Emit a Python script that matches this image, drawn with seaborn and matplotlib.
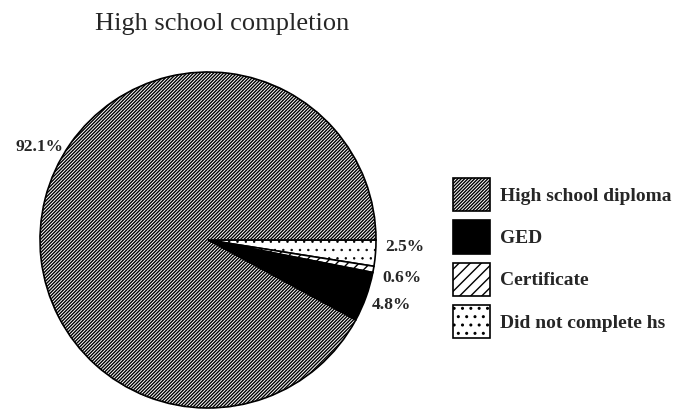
import matplotlib
matplotlib.use("Agg")
import matplotlib.pyplot as plt
import seaborn as sns
import numpy as np

sns.set_theme(style="white")
plt.rcParams['font.family'] = ['Liberation Serif', 'DejaVu Serif']
plt.rcParams['hatch.linewidth'] = 1.0

# Data (clockwise from 3 o'clock)
categories = ["Did not complete hs", "Certificate", "GED", "High school diploma"]
values = [2.5, 0.6, 4.8, 92.1]
pct_labels = ["2.5%", "0.6%", "4.8%", "92.1%"]
legend_order = ["High school diploma", "GED", "Certificate", "Did not complete hs"]

styles = {
    "Did not complete hs": dict(facecolor="white", hatch="..", hlw=0.5),
    "Certificate": dict(facecolor="white", hatch="///", hlw=1.0),
    "GED": dict(facecolor="black", hatch=None, hlw=1.0),
    "High school diploma": dict(facecolor="white", hatch="//////////", hlw=1.0),
}

W, H = 673, 409
fig = plt.figure(figsize=(W/100, H/100), dpi=100)
cx, cy, R = 208, 240, 168
ax = fig.add_axes([(cx-R)/W, (H-cy-R)/H, 2*R/W, 2*R/H])
wedges, _ = ax.pie(values, startangle=0, counterclock=False,
                   wedgeprops=dict(edgecolor="black", linewidth=1.2))
for w, c in zip(wedges, categories):
    st = styles[c]
    w.set_facecolor(st["facecolor"])
    if st["hatch"]:
        w.set_hatch(st["hatch"])
        try:
            w.set_hatch_linewidth(st["hlw"])
        except Exception:
            pass
ax.set_aspect("equal")
ax.set_xlim(-1.0, 1.0)
ax.set_ylim(-1.0, 1.0)
ax.axis("off")

# percentage labels
label_pos = {
    "2.5%": (1.054, -0.042, "left"),
    "0.6%": (1.036, -0.226, "left"),
    "4.8%": (0.976, -0.387, "left"),
    "92.1%": (-0.863, 0.554, "right"),
}
for lab in pct_labels:
    x, y, ha = label_pos[lab]
    ax.text(x, y, lab, ha=ha, va="center", fontsize=12.5, fontweight="bold",
            clip_on=False)

fig.text(222/W, 1 - 24/H, "High school completion", ha="center",
         va="center", fontsize=19)

handles = [wedges[categories.index(c)] for c in legend_order]
leg = fig.legend(handles, legend_order, loc="upper left",
                 bbox_to_anchor=(453/W, 1 - 178/H), frameon=False,
                 fontsize=14, handlelength=1.9, handleheight=2.25,
                 labelspacing=0.47, handletextpad=0.52, borderpad=0,
                 borderaxespad=0)
for t in leg.get_texts():
    t.set_fontweight("bold")

fig.savefig("out.png", dpi=100)
